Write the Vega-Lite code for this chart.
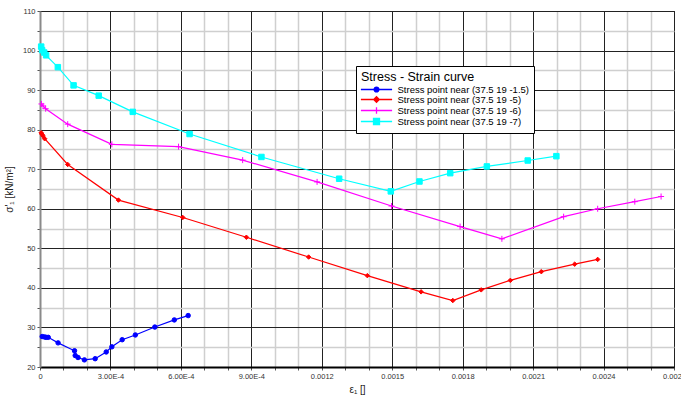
{
  "$schema": "https://vega.github.io/schema/vega-lite/v6.json",
  "width": 634,
  "height": 356,
  "autosize": "none",
  "padding": {"left": 40, "top": 11, "right": 7, "bottom": 32},
  "background": "#ffffff",
  "config": {
    "view": {"stroke": "#000000", "strokeWidth": 1},
    "font": "Liberation Sans"
  },
  "data": {
    "values": [
      {"s": "Stress point near (37.5 19 -1.5)", "x": 0.0000094, "y": 27.7},
      {"s": "Stress point near (37.5 19 -1.5)", "x": 0.000019, "y": 27.6},
      {"s": "Stress point near (37.5 19 -1.5)", "x": 0.000026, "y": 27.5},
      {"s": "Stress point near (37.5 19 -1.5)", "x": 0.000035, "y": 27.5},
      {"s": "Stress point near (37.5 19 -1.5)", "x": 0.000077, "y": 26.1},
      {"s": "Stress point near (37.5 19 -1.5)", "x": 0.000147, "y": 24.1},
      {"s": "Stress point near (37.5 19 -1.5)", "x": 0.00015, "y": 22.9},
      {"s": "Stress point near (37.5 19 -1.5)", "x": 0.000162, "y": 22.4},
      {"s": "Stress point near (37.5 19 -1.5)", "x": 0.000189, "y": 21.8},
      {"s": "Stress point near (37.5 19 -1.5)", "x": 0.000235, "y": 22.1},
      {"s": "Stress point near (37.5 19 -1.5)", "x": 0.000282, "y": 23.8},
      {"s": "Stress point near (37.5 19 -1.5)", "x": 0.000306, "y": 25.1},
      {"s": "Stress point near (37.5 19 -1.5)", "x": 0.00035, "y": 26.9},
      {"s": "Stress point near (37.5 19 -1.5)", "x": 0.000406, "y": 28.1},
      {"s": "Stress point near (37.5 19 -1.5)", "x": 0.000489, "y": 30.1},
      {"s": "Stress point near (37.5 19 -1.5)", "x": 0.000572, "y": 31.9},
      {"s": "Stress point near (37.5 19 -1.5)", "x": 0.000631, "y": 33.0},
      {"s": "Stress point near (37.5 19 -5)", "x": 0.000005, "y": 79.2},
      {"s": "Stress point near (37.5 19 -5)", "x": 0.000009, "y": 78.8},
      {"s": "Stress point near (37.5 19 -5)", "x": 0.000013, "y": 78.4},
      {"s": "Stress point near (37.5 19 -5)", "x": 0.00002, "y": 77.7},
      {"s": "Stress point near (37.5 19 -5)", "x": 0.000118, "y": 71.2},
      {"s": "Stress point near (37.5 19 -5)", "x": 0.000334, "y": 62.2},
      {"s": "Stress point near (37.5 19 -5)", "x": 0.000608, "y": 57.8},
      {"s": "Stress point near (37.5 19 -5)", "x": 0.000879, "y": 52.8},
      {"s": "Stress point near (37.5 19 -5)", "x": 0.001144, "y": 47.8},
      {"s": "Stress point near (37.5 19 -5)", "x": 0.001394, "y": 43.1},
      {"s": "Stress point near (37.5 19 -5)", "x": 0.001623, "y": 39.0},
      {"s": "Stress point near (37.5 19 -5)", "x": 0.001758, "y": 36.8},
      {"s": "Stress point near (37.5 19 -5)", "x": 0.001879, "y": 39.5},
      {"s": "Stress point near (37.5 19 -5)", "x": 0.002003, "y": 41.9},
      {"s": "Stress point near (37.5 19 -5)", "x": 0.002135, "y": 44.1},
      {"s": "Stress point near (37.5 19 -5)", "x": 0.002277, "y": 46.0},
      {"s": "Stress point near (37.5 19 -5)", "x": 0.002375, "y": 47.2},
      {"s": "Stress point near (37.5 19 -6)", "x": 0.000006, "y": 86.5},
      {"s": "Stress point near (37.5 19 -6)", "x": 0.000013, "y": 86.0},
      {"s": "Stress point near (37.5 19 -6)", "x": 0.000024, "y": 85.3},
      {"s": "Stress point near (37.5 19 -6)", "x": 0.000118, "y": 81.4},
      {"s": "Stress point near (37.5 19 -6)", "x": 0.000306, "y": 76.3},
      {"s": "Stress point near (37.5 19 -6)", "x": 0.00059, "y": 75.7},
      {"s": "Stress point near (37.5 19 -6)", "x": 0.000863, "y": 72.3},
      {"s": "Stress point near (37.5 19 -6)", "x": 0.00118, "y": 66.8},
      {"s": "Stress point near (37.5 19 -6)", "x": 0.001497, "y": 60.7},
      {"s": "Stress point near (37.5 19 -6)", "x": 0.001789, "y": 55.5},
      {"s": "Stress point near (37.5 19 -6)", "x": 0.001967, "y": 52.4},
      {"s": "Stress point near (37.5 19 -6)", "x": 0.00223, "y": 58.0},
      {"s": "Stress point near (37.5 19 -6)", "x": 0.002375, "y": 60.0},
      {"s": "Stress point near (37.5 19 -6)", "x": 0.002533, "y": 61.8},
      {"s": "Stress point near (37.5 19 -6)", "x": 0.002645, "y": 63.1},
      {"s": "Stress point near (37.5 19 -7)", "x": 0.000005, "y": 101.0},
      {"s": "Stress point near (37.5 19 -7)", "x": 0.000009, "y": 100.1},
      {"s": "Stress point near (37.5 19 -7)", "x": 0.000018, "y": 99.5},
      {"s": "Stress point near (37.5 19 -7)", "x": 0.000026, "y": 98.8},
      {"s": "Stress point near (37.5 19 -7)", "x": 0.000076, "y": 95.8},
      {"s": "Stress point near (37.5 19 -7)", "x": 0.000143, "y": 91.2},
      {"s": "Stress point near (37.5 19 -7)", "x": 0.00025, "y": 88.6},
      {"s": "Stress point near (37.5 19 -7)", "x": 0.000395, "y": 84.5},
      {"s": "Stress point near (37.5 19 -7)", "x": 0.000637, "y": 78.9},
      {"s": "Stress point near (37.5 19 -7)", "x": 0.000943, "y": 73.1},
      {"s": "Stress point near (37.5 19 -7)", "x": 0.001274, "y": 67.6},
      {"s": "Stress point near (37.5 19 -7)", "x": 0.001494, "y": 64.4},
      {"s": "Stress point near (37.5 19 -7)", "x": 0.001616, "y": 66.9},
      {"s": "Stress point near (37.5 19 -7)", "x": 0.001747, "y": 69.0},
      {"s": "Stress point near (37.5 19 -7)", "x": 0.001903, "y": 70.7},
      {"s": "Stress point near (37.5 19 -7)", "x": 0.002077, "y": 72.2},
      {"s": "Stress point near (37.5 19 -7)", "x": 0.002199, "y": 73.3}
    ]
  },
  "encoding": {
    "x": {
      "field": "x", "type": "quantitative",
      "scale": {"domain": [0, 0.0027], "nice": false, "zero": false},
      "axis": {
        "values": [0, 0.0001, 0.0002, 0.0003, 0.0004, 0.0005, 0.0006, 0.0007, 0.0008, 0.0009, 0.001, 0.0011, 0.0012, 0.0013, 0.0014, 0.0015, 0.0016, 0.0017, 0.0018, 0.0019, 0.002, 0.0021, 0.0022, 0.0023, 0.0024, 0.0025, 0.0026, 0.0027],
        "title": "ε₁ []",
        "titleFont": "Liberation Sans", "titleFontSize": 10, "titleFontWeight": "normal", "titleColor": "#222222", "titlePadding": 5,
        "labelExpr": "round(datum.value*10000) % 3 != 0 ? '' : (round(datum.value*10000) == 0 ? '0' : (round(datum.value*10000) < 10 ? upper(format(datum.value, '.2e')) : format(datum.value, '.4f')))",
        "labelOverlap": false, "labelFlush": false,
        "labelFont": "Liberation Sans", "labelFontSize": 7.5, "labelColor": "#333333", "labelPadding": 2,
        "grid": true,
        "gridColor": {"condition": {"test": "round(datum.value*10000) % 3 == 0", "value": "#222222"}, "value": "#cfcfcf"},
        "gridWidth": {"condition": {"test": "round(datum.value*10000) % 3 == 0", "value": 1}, "value": 1.5},
        "domainColor": "#000000", "domainWidth": 2,
        "tickColor": "#555555", "tickSize": 3, "tickWidth": 1
      }
    },
    "y": {
      "field": "y", "type": "quantitative",
      "scale": {"domain": [20, 110], "nice": false, "zero": false},
      "axis": {
        "values": [20, 25, 30, 35, 40, 45, 50, 55, 60, 65, 70, 75, 80, 85, 90, 95, 100, 105, 110],
        "title": "σ'₁  [kN/m²]",
        "titleFont": "Liberation Sans", "titleFontSize": 10, "titleFontWeight": "normal", "titleColor": "#222222", "titlePadding": 8,
        "labelExpr": "datum.value % 10 == 0 ? datum.label : ''",
        "labelOverlap": false, "labelFlush": false,
        "labelFont": "Liberation Sans", "labelFontSize": 7.5, "labelColor": "#333333", "labelPadding": 2,
        "grid": true,
        "gridColor": {"condition": {"test": "datum.value % 10 == 0", "value": "#222222"}, "value": "#cfcfcf"},
        "gridWidth": {"condition": {"test": "datum.value % 10 == 0", "value": 1}, "value": 1.5},
        "domainColor": "#8a8a8a", "domainWidth": 2,
        "tickColor": "#555555", "tickSize": 3, "tickWidth": 1
      }
    }
  },
  "layer": [
    {
      "mark": {"type": "line", "strokeWidth": 1.2},
      "encoding": {
        "detail": {"field": "s"},
        "stroke": {
          "condition": [
            {"test": "datum.s == 'Stress point near (37.5 19 -1.5)'", "value": "#0000ff"},
            {"test": "datum.s == 'Stress point near (37.5 19 -5)'", "value": "#ff0000"},
            {"test": "datum.s == 'Stress point near (37.5 19 -6)'", "value": "#ff00ff"}
          ],
          "value": "#00ffff"
        }
      }
    },
    {
      "mark": {"type": "point", "opacity": 1, "strokeWidth": 1},
      "encoding": {
        "fill": {
          "condition": [
            {"test": "datum.s == 'Stress point near (37.5 19 -1.5)'", "value": "#0000ff"},
            {"test": "datum.s == 'Stress point near (37.5 19 -5)'", "value": "#ff0000"},
            {"test": "datum.s == 'Stress point near (37.5 19 -6)'", "value": "#ff00ff"}
          ],
          "value": "#00ffff"
        },
        "stroke": {
          "condition": [
            {"test": "datum.s == 'Stress point near (37.5 19 -1.5)'", "value": "#0000ff"},
            {"test": "datum.s == 'Stress point near (37.5 19 -5)'", "value": "#ff0000"},
            {"test": "datum.s == 'Stress point near (37.5 19 -6)'", "value": "#ff00ff"}
          ],
          "value": "#00ffff"
        },
        "shape": {
          "condition": [
            {"test": "datum.s == 'Stress point near (37.5 19 -1.5)'", "value": "circle"},
            {"test": "datum.s == 'Stress point near (37.5 19 -5)'", "value": "diamond"},
            {"test": "datum.s == 'Stress point near (37.5 19 -6)'", "value": "M-1,0H1M0,-1V1"}
          ],
          "value": "square"
        },
        "size": {
          "condition": [
            {"test": "datum.s == 'Stress point near (37.5 19 -1.5)'", "value": 20},
            {"test": "datum.s == 'Stress point near (37.5 19 -5)'", "value": 20},
            {"test": "datum.s == 'Stress point near (37.5 19 -6)'", "value": 36}
          ],
          "value": 30
        }
      }
    },
    {
      "transform": [{"filter": "datum.x < 0"}],
      "mark": {"type": "point", "opacity": 1, "strokeWidth": 1.3},
      "encoding": {
        "fill": {
          "field": "s", "type": "nominal",
          "scale": {"domain": ["Stress point near (37.5 19 -1.5)", "Stress point near (37.5 19 -5)", "Stress point near (37.5 19 -6)", "Stress point near (37.5 19 -7)"], "range": ["#0000ff", "#ff0000", "#ff00ff", "#00ffff"]},
          "legend": {"title": "Stress - Strain curve", "orient": "none", "legendX": 316, "legendY": 55, "strokeColor": "#000000", "fillColor": "#ffffff", "padding": 5, "titleFont": "Liberation Sans", "titleFontSize": 12.5, "titleFontWeight": "normal", "titleColor": "#000000", "titlePadding": 1, "labelFont": "Liberation Sans", "labelFontSize": 9.5, "labelColor": "#000000", "symbolSize": 64, "symbolStrokeWidth": 1.3, "symbolOffset": 10.5, "labelOffset": 16, "rowPadding": -2.4, "symbolOpacity": 1}
        },
        "stroke": {
          "field": "s", "type": "nominal",
          "scale": {"domain": ["Stress point near (37.5 19 -1.5)", "Stress point near (37.5 19 -5)", "Stress point near (37.5 19 -6)", "Stress point near (37.5 19 -7)"], "range": ["#0000ff", "#ff0000", "#ff00ff", "#00ffff"]},
          "legend": {"title": "Stress - Strain curve", "orient": "none", "legendX": 316, "legendY": 55, "strokeColor": "#000000", "fillColor": "#ffffff", "padding": 5, "titleFont": "Liberation Sans", "titleFontSize": 12.5, "titleFontWeight": "normal", "titleColor": "#000000", "titlePadding": 1, "labelFont": "Liberation Sans", "labelFontSize": 9.5, "labelColor": "#000000", "symbolSize": 64, "symbolStrokeWidth": 1.3, "symbolOffset": 10.5, "labelOffset": 16, "rowPadding": -2.4, "symbolOpacity": 1}
        },
        "shape": {
          "field": "s", "type": "nominal",
          "scale": {
            "domain": ["Stress point near (37.5 19 -1.5)", "Stress point near (37.5 19 -5)", "Stress point near (37.5 19 -6)", "Stress point near (37.5 19 -7)"],
            "range": [
              "M-3.9,0H3.9M-0.6,0A0.6,0.6,0,1,0,0.6,0A0.6,0.6,0,1,0,-0.6,0Z",
              "M-3.9,0H3.9M0,-0.7L0.7,0L0,0.7L-0.7,0Z",
              "M-3.9,0H3.9M0,-0.8V0.8",
              "M-3.9,0H3.9M-0.75,-0.75H0.75V0.75H-0.75Z"
            ]
          },
          "legend": {"title": "Stress - Strain curve", "orient": "none", "legendX": 316, "legendY": 55, "strokeColor": "#000000", "fillColor": "#ffffff", "padding": 5, "titleFont": "Liberation Sans", "titleFontSize": 12.5, "titleFontWeight": "normal", "titleColor": "#000000", "titlePadding": 1, "labelFont": "Liberation Sans", "labelFontSize": 9.5, "labelColor": "#000000", "symbolSize": 64, "symbolStrokeWidth": 1.3, "symbolOffset": 10.5, "labelOffset": 16, "rowPadding": -2.4, "symbolOpacity": 1}
        }
      }
    }
  ]
}
